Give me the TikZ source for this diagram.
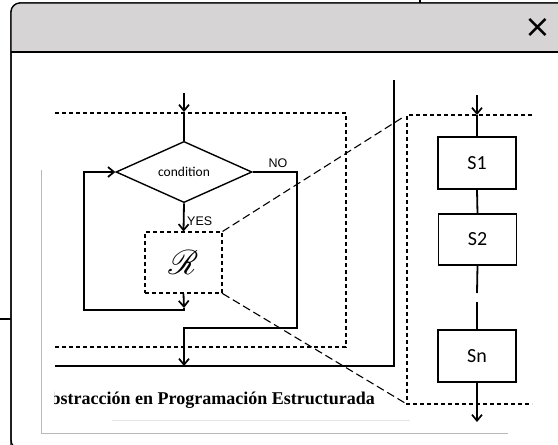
\documentclass[tikz,border=0pt]{standalone}
\usepackage{fontspec}
\usepackage{mathrsfs}
\usepackage{graphicx}
\usetikzlibrary{arrows.meta,shapes.geometric}
\newfontfamily\calib{Carlito}
\newfontfamily\arialf{Liberation Sans}
\newfontfamily\capfont{Liberation Serif}
\newfontfamily\djv{DejaVu Sans}
\definecolor{hdrgray}{HTML}{D6D4D5}
\tikzset{
  flow/.style={line width=1.8pt},
  arr/.style={-{Straight Barb[length=6pt,width=10pt,line width=1.7pt]}},
  shortdash/.style={line width=1.1pt, dash pattern=on 4pt off 3pt},
  longdash/.style={line width=1.1pt, dash pattern=on 8pt off 4pt},
  sbox/.style={draw, line width=1.3pt, minimum width=78pt, minimum height=52pt, inner sep=0pt, font=\calib\fontsize{20}{22}\selectfont},
  lbl/.style={font=\arialf\fontsize{12.5}{14}\selectfont, inner sep=0pt},
  frameline/.style={draw=gray!55, line width=1pt}
}
\begin{document}
\begin{tikzpicture}[x=1pt,y=-1pt]
\useasboundingbox (0,0) rectangle (558,445);
\clip (0,0) rectangle (558,445);
% background behind dialog
\draw[line width=1.2pt] (0,319) -- (11,319);
\draw[line width=1.2pt] (420,0) -- (420,3);
% dialog
\draw[fill=white, line width=1.3pt, rounded corners=9pt] (11,3) rectangle (580,449);
\begin{scope}
\clip[rounded corners=9pt] (11,3) rectangle (580,449);
\fill[hdrgray] (11,3) rectangle (580,52);
\end{scope}
\draw[line width=1.3pt, rounded corners=9pt] (11,449) -- (11,3) -- (580,3);
\draw[line width=1.3pt] (11,52) -- (580,52);
\node[font=\djv\fontsize{32}{34}\selectfont, inner sep=0pt] (closex) at (538,28) {×};
% image frame / shadow
\draw[frameline] (41,170) -- (41,433) -- (508,433);
\draw[draw=gray!20, line width=0.8pt] (112,420) -- (410,420);
% dashed outer rectangle (left)
\draw[shortdash] (55,113) -- (346,113) -- (346,347) -- (55,347);
% solid enclosing line
\draw[line width=1.6pt] (394,80) -- (394,366) -- (55,366);
% diamond
\node[draw, diamond, line width=1.4pt, minimum width=136pt, minimum height=58pt, inner sep=0pt,
      font=\calib\fontsize{13.5}{15}\selectfont] (cond) at (184,172) {condition};
% R box
\node[draw, shortdash, minimum width=77pt, minimum height=61pt, inner sep=0pt] (rbox) at (183.5,262.5)
  {\resizebox{30pt}{24pt}{$\mathscr{R}$}};
% top arrow
\coordinate (tin) at (184,93);
\coordinate (tarr) at (184,112);
\draw[flow,arr] (tin) -- (tarr);
\draw[flow] (tarr) -- (cond.north);
% YES
\draw[flow,arr] (cond.south) -- (rbox.north);
\node[lbl, anchor=west] (yes) at (187,221) {YES};
% loop back
\coordinate (rb1) at (184,308);
\coordinate (lc1) at (184,310);
\coordinate (lc2) at (84,310);
\coordinate (lc3) at (84,172);
\draw[flow,arr] (rbox.south) -- (rb1);
\draw[flow,arr] (rb1) -- (lc1) -- (lc2) -- (lc3) -- (cond.west);
% NO
\coordinate (n1) at (297,172);
\coordinate (n2) at (297,328);
\coordinate (n3) at (184,328);
\coordinate (n4) at (184,366);
\draw[flow,arr] (cond.east) -- (n1) -- (n2) -- (n3) -- (n4);
\node[lbl] (no) at (278,163) {NO};
% right dashed rectangle
\draw[shortdash] (532,115) -- (407,115) -- (407,404) -- (532,404);
% diagonals
\coordinate (d1) at (405,116);
\coordinate (d2) at (405,403);
\draw[longdash] (rbox.north east) -- (d1);
\draw[longdash] (rbox.south east) -- (d2);
% sequence
\node[sbox] (s1) at (477,163) {S1};
\node[sbox, minimum height=51pt] (s2) at (477.5,239.5) {S2};
\node[sbox] (sn) at (477,356) {Sn};
\coordinate (rin) at (477,95);
\coordinate (rarr) at (477,115);
\coordinate (g1) at (477,293);
\coordinate (g2) at (477,302);
\coordinate (rout) at (477,422);
\draw[flow,arr] (rin) -- (rarr);
\draw[flow] (rarr) -- (s1.north);
\draw[flow] (s1.south) -- (s2.north);
\draw[flow] (s2.south) -- (g1);
\draw[flow] (g2) -- (sn.north);
\draw[flow,arr] (sn.south) -- (rout);
% caption
\begin{scope}
\clip (54,380) rectangle (400,415);
\node[font=\capfont\bfseries\fontsize{18}{20}\selectfont, anchor=base east, inner sep=0pt] (cap) at (375,404)
  {bstracción en Programación Estructurada};
\end{scope}
\end{tikzpicture}
\end{document}
